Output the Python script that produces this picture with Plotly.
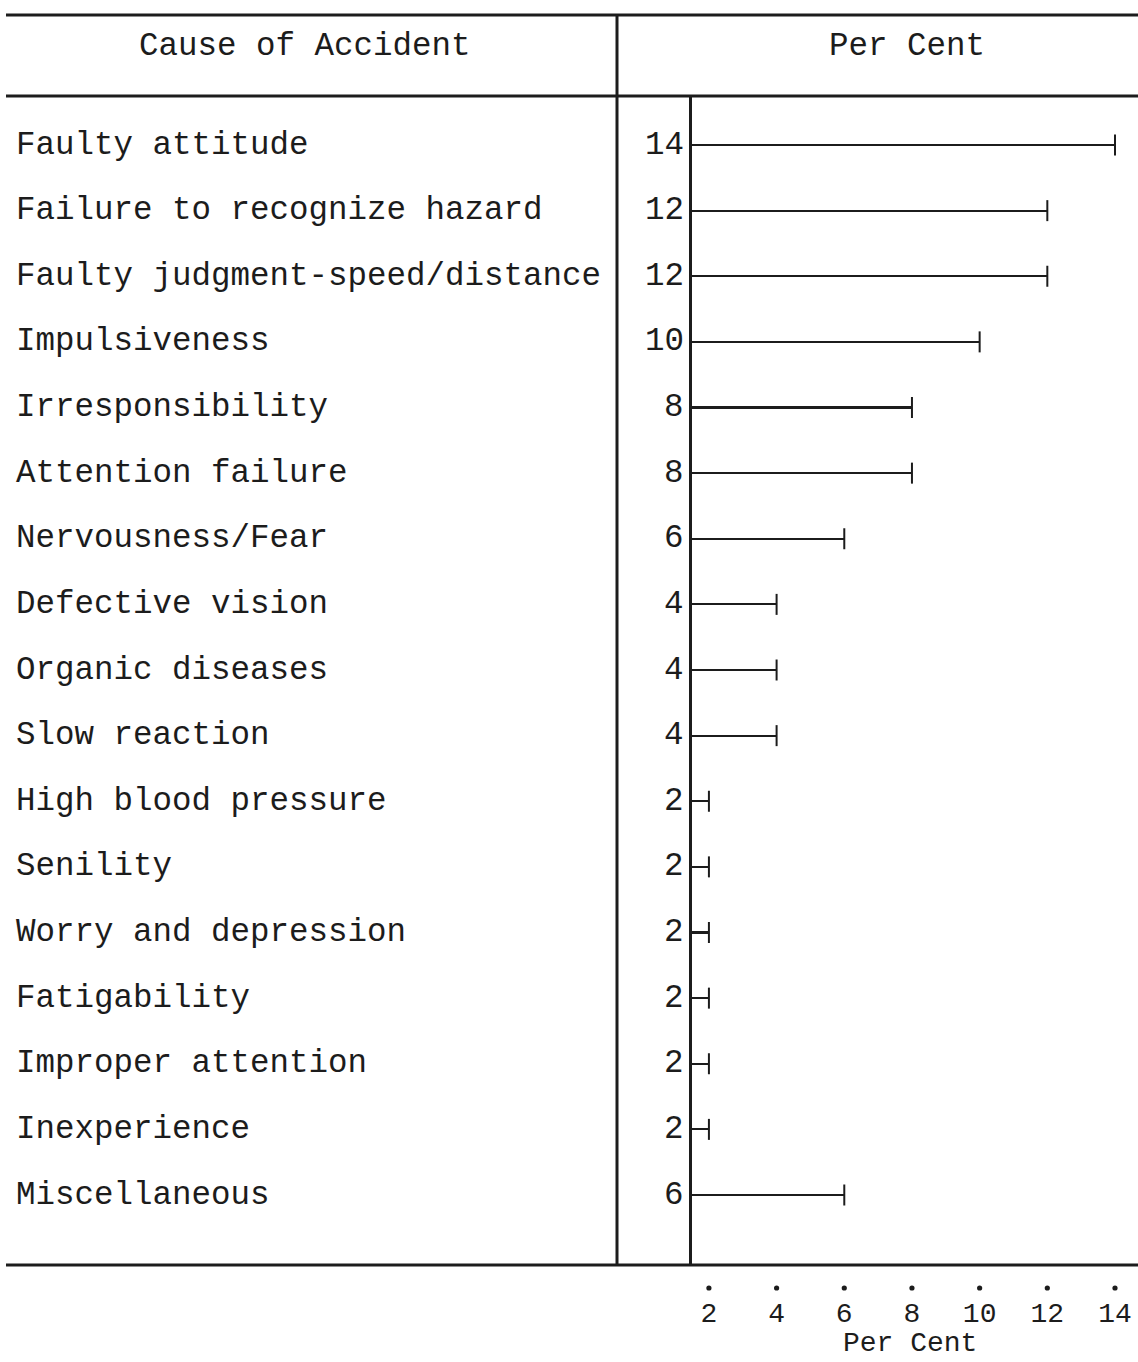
import plotly.graph_objects as go

causes = [
    "Faulty attitude",
    "Failure to recognize hazard",
    "Faulty judgment-speed/distance",
    "Impulsiveness",
    "Irresponsibility",
    "Attention failure",
    "Nervousness/Fear",
    "Defective vision",
    "Organic diseases",
    "Slow reaction",
    "High blood pressure",
    "Senility",
    "Worry and depression",
    "Fatigability",
    "Improper attention",
    "Inexperience",
    "Miscellaneous",
]
per_cent = [14, 12, 12, 10, 8, 8, 6, 4, 4, 4, 2, 2, 2, 2, 2, 2, 6]
tick_values = [2, 4, 6, 8, 10, 12, 14]
header_left = "Cause of Accident"
header_right = "Per Cent"
x_title = "Per Cent"

W, H = 1138, 1362
FONT = "Liberation Mono"
INK = "#1c1c1c"
FS = 32.5
FS_AX = 28

rows = list(range(len(causes)))

fig = go.Figure()

# bars (thin horizontal lines)
fig.add_trace(go.Bar(
    x=per_cent, y=rows, orientation="h", base=0, width=0.033,
    marker=dict(color=INK, line=dict(width=0)), hoverinfo="skip",
))
# end caps
fig.add_trace(go.Scatter(
    x=per_cent, y=rows, mode="markers",
    marker=dict(symbol="line-ns", size=15, line=dict(width=2, color=INK), color=INK),
    hoverinfo="skip",
))

y_top_px, y_bot_px = 96, 1265
row0_px, row_step = 145, 65.625
x_base_px = 692

def py(px):
    return 1 - px / H

def px_(x):
    return x / W

annotations = []
for i, (c, v) in enumerate(zip(causes, per_cent)):
    annotations.append(dict(
        x=px_(14), xref="paper", y=i, yref="y", text=c, showarrow=False,
        xanchor="left", yanchor="middle", font=dict(family=FONT, size=FS, color=INK),
    ))
    annotations.append(dict(
        x=px_(686), xref="paper", y=i, yref="y", text=str(v), showarrow=False,
        xanchor="right", yanchor="middle", font=dict(family=FONT, size=FS, color=INK),
    ))

annotations.append(dict(
    x=px_(305), xref="paper", y=py(46), yref="paper", text=header_left, showarrow=False,
    xanchor="center", yanchor="middle", font=dict(family=FONT, size=FS, color=INK),
))
annotations.append(dict(
    x=px_(907), xref="paper", y=py(46), yref="paper", text=header_right, showarrow=False,
    xanchor="center", yanchor="middle", font=dict(family=FONT, size=FS, color=INK),
))
annotations.append(dict(
    x=px_(910), xref="paper", y=py(1343), yref="paper", text=x_title, showarrow=False,
    xanchor="center", yanchor="middle", font=dict(family=FONT, size=FS_AX, color=INK),
))

shapes = [
    dict(type="line", xref="paper", yref="paper", x0=px_(6), x1=1, y0=py(15), y1=py(15),
         line=dict(color=INK, width=3)),
    dict(type="line", xref="paper", yref="paper", x0=px_(6), x1=1, y0=py(y_top_px), y1=py(y_top_px),
         line=dict(color=INK, width=3)),
    dict(type="line", xref="paper", yref="paper", x0=px_(6), x1=1, y0=py(y_bot_px), y1=py(y_bot_px),
         line=dict(color=INK, width=3)),
    dict(type="line", xref="paper", yref="paper", x0=px_(617), x1=px_(617), y0=py(15), y1=py(y_bot_px),
         line=dict(color=INK, width=3)),
]
# tick dots above the tick labels, placed through the x axis
for t in tick_values:
    shapes.append(dict(
        type="circle", xref="x", yref="paper", xsizemode="pixel", ysizemode="pixel",
        xanchor=t, yanchor=py(1288), x0=-2.6, x1=2.6, y0=-2.6, y1=2.6,
        fillcolor=INK, line=dict(width=0),
    ))

x_min = 1.5
scale = (1115 - x_base_px) / (14 - x_min)
x_max = x_min + (W - x_base_px) / scale

fig.update_layout(
    width=W, height=H,
    margin=dict(l=0, r=0, t=0, b=0),
    paper_bgcolor="white", plot_bgcolor="white",
    showlegend=False,
    bargap=0,
    annotations=annotations,
    shapes=shapes,
    xaxis=dict(
        domain=[x_base_px / W, 1], range=[x_min, x_max],
        tickvals=tick_values, ticktext=[str(t) for t in tick_values],
        ticks="", showgrid=False, zeroline=False, showline=False,
        tickfont=dict(family=FONT, size=FS_AX, color=INK),
        ticklabelstandoff=28, ticklabeloverflow="allow",
        automargin=False, fixedrange=True,
    ),
    yaxis=dict(
        domain=[py(y_bot_px), py(y_top_px)],
        range=[(y_bot_px - row0_px) / row_step, (y_top_px - row0_px) / row_step],
        showticklabels=False, ticks="", showgrid=False, zeroline=False,
        showline=True, linecolor=INK, linewidth=3, automargin=False, fixedrange=True,
    ),
)

fig.write_html(
    "out.html",
    config={"displayModeBar": False},
    post_script="document.body.style.margin='0';document.body.style.overflow='hidden';",
)
